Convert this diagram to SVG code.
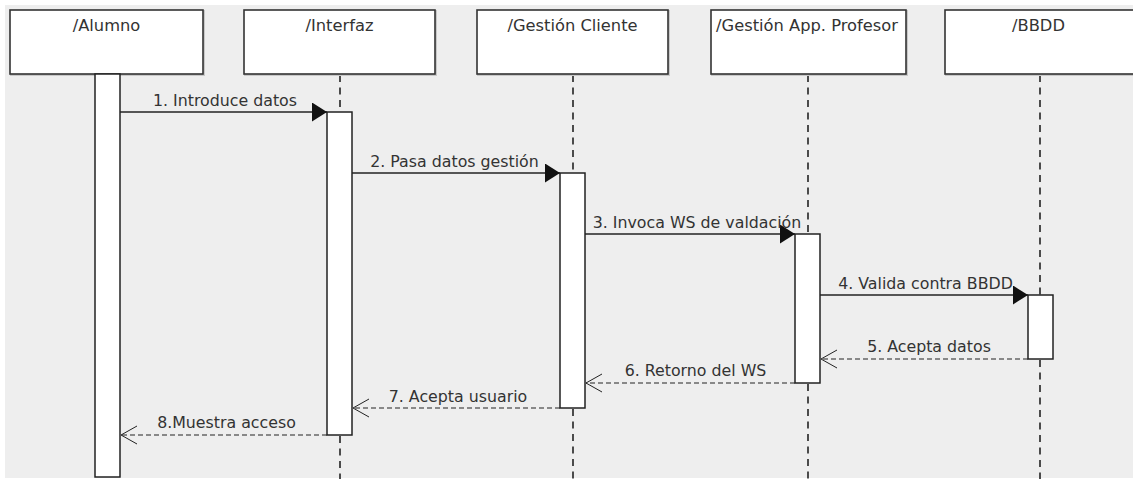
<svg xmlns="http://www.w3.org/2000/svg" width="1133" height="479" viewBox="0 0 1133 479">
  <style>
    .head { fill: #ffffff; stroke: #333333; stroke-width: 1.6; }
    .shadow { fill: none; stroke: #c8c8c8; stroke-width: 2; }
    .act { fill: #ffffff; stroke: #222222; stroke-width: 1.5; }
    .life { stroke: #222222; stroke-width: 1.6; stroke-dasharray: 7 5.5; fill: none; }
    .msg { stroke: #222222; stroke-width: 1.4; fill: none; }
    .ret { stroke: #222222; stroke-width: 1.2; stroke-dasharray: 5 3; fill: none; }
    .title { font-family: "DejaVu Sans", "Liberation Sans", sans-serif; font-size: 16.3px; fill: #333333; text-anchor: middle; }
    .label { font-family: "DejaVu Sans", "Liberation Sans", sans-serif; font-size: 15.8px; fill: #333333; text-anchor: middle; }
  </style>
  <defs>
    <marker id="filled" viewBox="0 0 15 19" refX="15" refY="9.5" markerWidth="15" markerHeight="19" markerUnits="userSpaceOnUse" orient="auto">
      <path d="M0,0 L15,9.5 L0,19 Z" fill="#111111"/>
    </marker>
    <marker id="open" viewBox="0 0 16 20" refX="16" refY="10" markerWidth="16" markerHeight="20" markerUnits="userSpaceOnUse" orient="auto">
      <path d="M0,1 L16,10 L0,19" fill="none" stroke="#222222" stroke-width="1"/>
    </marker>
  </defs>

  <!-- canvas -->
  <rect x="0" y="0" width="1133" height="479" fill="#ffffff"/>
  <rect x="5" y="5" width="1128" height="473" fill="#eeeeee"/>

  <!-- lifelines (dashed parts) -->
  <g id="lifelines">
    <line class="life" x1="340" y1="75" x2="340" y2="112"/>
    <line class="life" x1="340" y1="436" x2="340" y2="479"/>
    <line class="life" x1="573" y1="75" x2="573" y2="173"/>
    <line class="life" x1="573" y1="409" x2="573" y2="479"/>
    <line class="life" x1="808" y1="75" x2="808" y2="234"/>
    <line class="life" x1="808" y1="384" x2="808" y2="479"/>
    <line class="life" x1="1040" y1="75" x2="1040" y2="295"/>
    <line class="life" x1="1040" y1="360" x2="1040" y2="479"/>
  </g>

  <!-- participants -->
  <g id="alumno">
    <rect class="shadow" x="11" y="11" width="193" height="64"/>
    <rect class="head" x="10" y="10" width="193" height="64"/>
    <text class="title" x="106.5" y="31">/Alumno</text>
    <rect class="act" x="95" y="74" width="25" height="403"/>
  </g>
  <g id="interfaz">
    <rect class="shadow" x="245" y="11" width="191" height="64"/>
    <rect class="head" x="244" y="10" width="191" height="64"/>
    <text class="title" x="339.5" y="31">/Interfaz</text>
    <rect class="act" x="327" y="112" width="25" height="323"/>
  </g>
  <g id="gestion-cliente">
    <rect class="shadow" x="478" y="11" width="191" height="64"/>
    <rect class="head" x="477" y="10" width="191" height="64"/>
    <text class="title" x="572.5" y="31">/Gestión Cliente</text>
    <rect class="act" x="560" y="173" width="25" height="235"/>
  </g>
  <g id="gestion-app-profesor">
    <rect class="shadow" x="712" y="11" width="195" height="64"/>
    <rect class="head" x="711" y="10" width="195" height="64"/>
    <text class="title" x="807" y="31">/Gestión App. Profesor</text>
    <rect class="act" x="795" y="234" width="25" height="149"/>
  </g>
  <g id="bbdd">
    <rect class="shadow" x="946" y="11" width="192" height="64"/>
    <rect class="head" x="945" y="10" width="192" height="64"/>
    <text class="title" x="1038.5" y="31">/BBDD</text>
    <rect class="act" x="1028" y="295" width="25" height="64"/>
  </g>

  <!-- messages -->
  <g id="connectors">
    <line class="msg" x1="120" y1="112" x2="327" y2="112" marker-end="url(#filled)"/>
    <text class="label" x="225" y="106">1. Introduce datos</text>

    <line class="msg" x1="352" y1="173" x2="560" y2="173" marker-end="url(#filled)"/>
    <text class="label" x="454.5" y="167">2. Pasa datos gestión</text>

    <line class="msg" x1="585" y1="234" x2="795" y2="234" marker-end="url(#filled)"/>
    <text class="label" x="697" y="228">3. Invoca WS de valdación</text>

    <line class="msg" x1="820" y1="295" x2="1028" y2="295" marker-end="url(#filled)"/>
    <text class="label" x="925.5" y="289">4. Valida contra BBDD</text>

    <line class="ret" x1="1028" y1="359" x2="821" y2="359" marker-end="url(#open)"/>
    <text class="label" x="929" y="352">5. Acepta datos</text>

    <line class="ret" x1="795" y1="383" x2="586" y2="383" marker-end="url(#open)"/>
    <text class="label" x="695.5" y="376">6. Retorno del WS</text>

    <line class="ret" x1="560" y1="408" x2="353" y2="408" marker-end="url(#open)"/>
    <text class="label" x="458" y="402">7. Acepta usuario</text>

    <line class="ret" x1="327" y1="435" x2="121" y2="435" marker-end="url(#open)"/>
    <text class="label" x="226.5" y="428">8.Muestra acceso</text>
  </g>
</svg>
